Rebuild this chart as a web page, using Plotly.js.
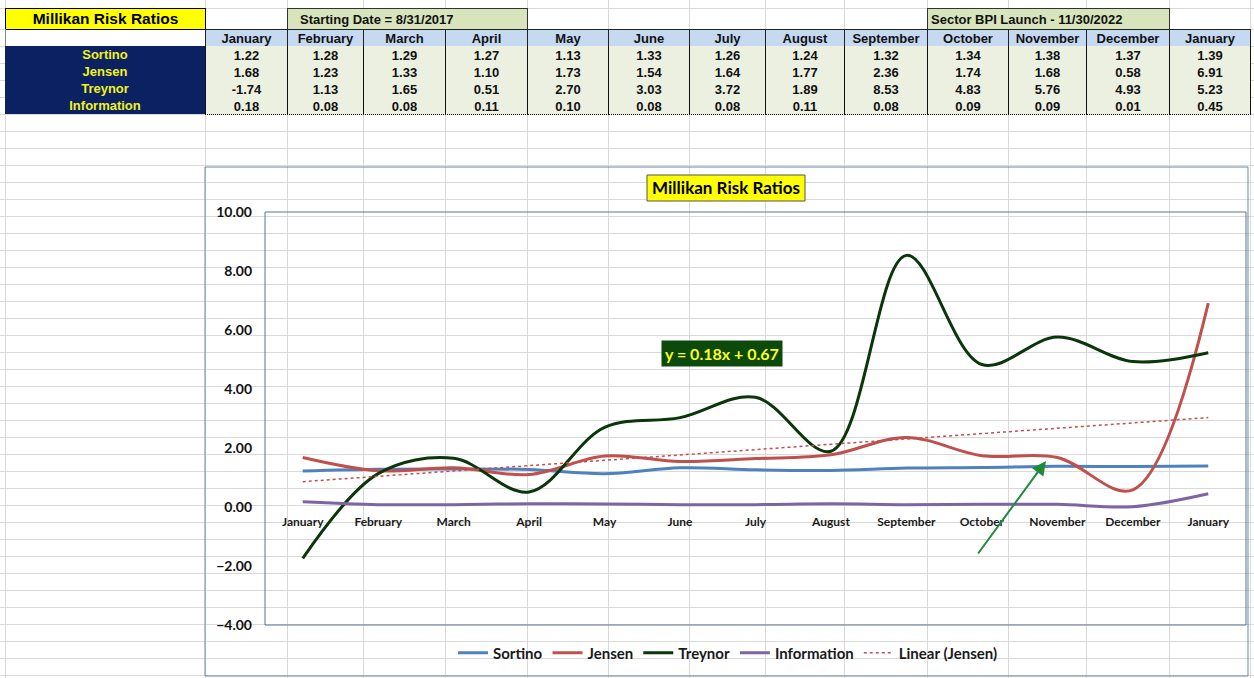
<!DOCTYPE html>
<html>
<head>
<meta charset="utf-8">
<script src="https://cdn.plot.ly/plotly-3.0.1.min.js"></script>
<style>
html,body{margin:0;padding:0;background:#ffffff;width:1254px;height:678px;overflow:hidden;}
#bg,#tbl,#chart{position:absolute;left:0;top:0;width:1254px;height:678px;}
.g{position:absolute;background:#d9d9d9;}
.c{position:absolute;box-sizing:border-box;display:flex;align-items:center;justify-content:center;
   font-family:"Liberation Sans",Arial,sans-serif;font-weight:bold;font-size:13px;color:#111;white-space:nowrap;line-height:1;}
</style>
</head>
<body>
<div id="bg"></div>
<div id="tbl"></div>
<div id="chart"></div>
<script>
// ---------------- data ----------------
const months = ['January','February','March','April','May','June','July','August','September','October','November','December','January'];
const rowNames = ['Sortino','Jensen','Treynor','Information'];
const sortino = [1.22,1.28,1.29,1.27,1.13,1.33,1.26,1.24,1.32,1.34,1.38,1.37,1.39];
const jensen = [1.68,1.23,1.33,1.10,1.73,1.54,1.64,1.77,2.36,1.74,1.68,0.58,6.91];
const treynor = [-1.74,1.13,1.65,0.51,2.70,3.03,3.72,1.89,8.53,4.83,5.76,4.93,5.23];
const information = [0.18,0.08,0.08,0.11,0.10,0.08,0.08,0.11,0.08,0.09,0.09,0.01,0.45];
const tableTitle = 'Millikan Risk Ratios';
const startLabel = 'Starting Date = 8/31/2017';
const launchLabel = 'Sector BPI Launch - 11/30/2022';
const chartTitle = 'Millikan Risk Ratios';
const trendName = 'Linear (Jensen)';
const trendLabel = 'y = 0.18x + 0.67';
const yTicks = [-4,-2,0,2,4,6,8,10];

// ---------------- spreadsheet background ----------------
const colLines = [5,205,287,363,445,527,608,689,765,844,927,1008,1086,1169,1250];
const rowLines = [8,29,46,63,80,97];
for (let y = 114; y < 678; y += 17) rowLines.push(y);
const bg = document.getElementById('bg');
colLines.forEach(x => { const d = document.createElement('div'); d.className='g'; d.style.cssText=`left:${x}px;top:0;width:1px;height:678px;`; bg.appendChild(d); });
rowLines.forEach(y => { const d = document.createElement('div'); d.className='g'; d.style.cssText=`left:0;top:${y}px;width:1254px;height:1px;`; bg.appendChild(d); });

// ---------------- table ----------------
const tbl = document.getElementById('tbl');
function cell(x, y, w, h, txt, css) {
  const d = document.createElement('div');
  d.className = 'c';
  d.style.cssText = `left:${x}px;top:${y}px;width:${w}px;height:${h}px;` + (css||'');
  d.textContent = txt;
  tbl.appendChild(d);
  return d;
}
cell(5, 8, 201, 22, tableTitle, 'background:#ffff00;border:1px solid #000;font-size:15.5px;color:#000;');
cell(287, 8, 241, 22, startLabel, 'background:#d8e4bc;border:1px solid #333;justify-content:flex-start;padding-left:12px;');
cell(927, 8, 243, 22, launchLabel, 'background:#d8e4bc;border:1px solid #333;justify-content:flex-start;padding-left:3px;');
const tCols = colLines.slice(1);
const series = [sortino, jensen, treynor, information];
cell(5, 29, 201, 18, '', 'border-left:1px solid #888;');
months.forEach((m, i) => {
  const x = tCols[i], w = tCols[i+1] - x + 1;
  cell(x, 29, w, 18, m, 'background:#c5d9f1;border:1px solid #222;');
  series.forEach((s, r) => {
    cell(x, 46 + 17*r, w, 18, s[i].toFixed(2), 'background:#ecf0e0;border-left:1px solid #111;border-right:1px solid #111;border-bottom:1px dotted #000;padding-top:1px;');
  });
});
cell(5, 46, 200, 68, '', 'background:#0c2161;');
rowNames.forEach((n, r) => cell(5, 46 + 17*r, 200, 17, n, 'color:#f2f21e;'));

// ---------------- chart ----------------
const xIdx = months.map((_, i) => i);
const xs = xIdx.map(i => i + 1);
const nPts = jensen.length;
const mx = xs.reduce((a,b)=>a+b,0)/nPts, my = jensen.reduce((a,b)=>a+b,0)/nPts;
let sxy = 0, sxx = 0;
xs.forEach((x, i) => { sxy += (x-mx)*(jensen[i]-my); sxx += (x-mx)*(x-mx); });
const slope = sxy/sxx, intercept = my - slope*mx;
const trendY = xs.map(x => intercept + slope*x);

const L = 265, R = 8, T = 212, B = 53, W = 1254, H = 678;
const pw = W - L - R, ph = H - T - B;
const px = v => (v - L) / pw;          // page x -> paper
const py = v => (H - B - v) / ph;      // page y -> paper
const step = pw / months.length;
const dx = v => (v - L) / step - 0.5;  // page x -> data x
const y0 = T + 10 * ph / 14;
const dy = v => (y0 - v) / (ph / 14);  // page y -> data y

const lineSpec = (c, w) => ({color: c, width: w, shape: 'spline', smoothing: 1});
const traces = [
  {x: xIdx, y: sortino, name: rowNames[0], legendgroup: 'g0', mode: 'lines', line: lineSpec('#4f81bd', 3)},
  {x: xIdx, y: jensen, name: rowNames[1], legendgroup: 'g1', mode: 'lines', line: lineSpec('#c0504d', 3)},
  {x: xIdx, y: treynor, name: rowNames[2], legendgroup: 'g2', mode: 'lines', line: lineSpec('#0a360a', 3)},
  {x: xIdx, y: information, name: rowNames[3], legendgroup: 'g3', mode: 'lines', line: lineSpec('#8064a2', 3)},
  {x: xIdx, y: trendY, name: trendName, legendgroup: 'g4', mode: 'lines', line: {color: '#c0504d', width: 1.5, dash: 'dot'}}
];

const layout = {
  width: W, height: H,
  margin: {l: L, r: R, t: T, b: B, pad: 0},
  paper_bgcolor: 'rgba(0,0,0,0)', plot_bgcolor: 'rgba(0,0,0,0)',
  font: {family: 'Lato, "Open Sans", sans-serif', color: '#1a1a1a'},
  showlegend: true,
  title: {text: chartTitle, font: {size: 17, color: '#000', weight: 'bold'},
          xref: 'container', yref: 'container', x: 726 / W, y: 1 - 188 / H, xanchor: 'center', yanchor: 'middle'},
  xaxis: {range: [-0.5, months.length - 0.5], tickmode: 'array', tickvals: xIdx, ticktext: months,
          showgrid: false, zeroline: false, showline: false, ticks: '', anchor: 'free', position: 4/14,
          tickfont: {size: 12, weight: 'bold', color: '#1a1a1a'}, ticklabelstandoff: 6, fixedrange: true},
  yaxis: {range: [-4, 10], tickmode: 'array', tickvals: yTicks, tickformat: '.2f',
          showgrid: false, zeroline: false, showline: false, ticks: '',
          tickfont: {size: 14, weight: 'bold', color: '#111'}, ticklabelstandoff: 12, fixedrange: true},
  legend: {orientation: 'h', x: px(728), xanchor: 'center', y: py(653), yanchor: 'middle',
           font: {size: 15, weight: 'bold', color: '#1a1a1a'}, bgcolor: 'rgba(0,0,0,0)', itemwidth: 30,
           traceorder: 'normal', tracegroupgap: 16},
  shapes: [
    {type: 'rect', xref: 'paper', yref: 'paper', x0: px(205), x1: px(1248), y0: py(676), y1: py(167), line: {color: '#6a88a6', width: 1}, layer: 'below'},
    {type: 'rect', xref: 'paper', yref: 'paper', x0: 0, x1: 1, y0: 0, y1: 1, line: {color: '#5a7690', width: 1}, layer: 'below'},
    {type: 'rect', xref: 'paper', yref: 'paper', x0: px(647), x1: px(805), y0: py(201), y1: py(175), fillcolor: '#ffff00', line: {color: '#555', width: 1}, layer: 'above'}
  ],
  annotations: [
    {xref: 'paper', yref: 'paper', x: px(722), y: py(353.5), text: trendLabel, showarrow: false,
     bgcolor: '#0b4a0b', borderpad: 3, font: {size: 16, color: '#ffff1a', weight: 'bold'}},
    {xref: 'x', yref: 'y', x: dx(1046), y: dy(461), axref: 'x', ayref: 'y', ax: dx(977), ay: dy(555), text: '',
     showarrow: true, arrowhead: 2, arrowsize: 1.4, arrowwidth: 2, arrowcolor: '#1f8a3a'}
  ]
};

Plotly.newPlot('chart', traces, layout, {displayModeBar: false, staticPlot: true});
</script>
</body>
</html>
